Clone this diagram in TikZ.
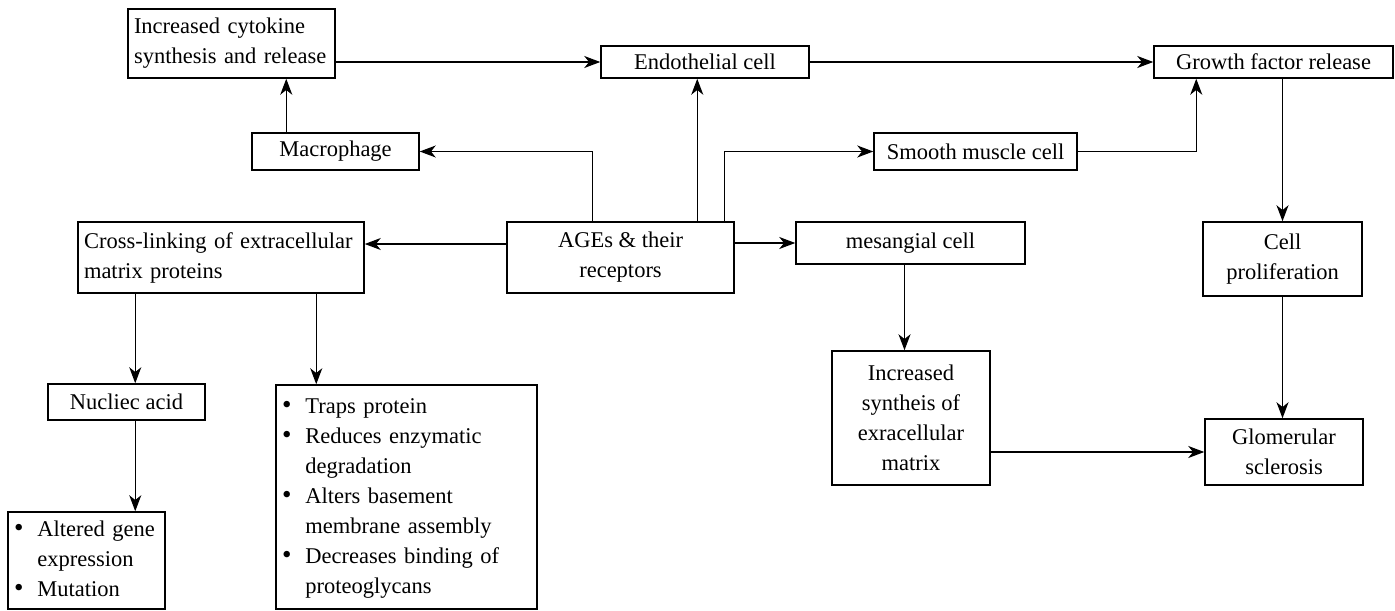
\documentclass[tikz,border=0pt]{standalone}
\usepackage{fontspec}
\setmainfont{Liberation Serif}
\usetikzlibrary{arrows.meta,calc}
\newcommand{\bul}{{\fontsize{13.5}{15}\selectfont\textbullet}}
\tikzset{
  box/.style={draw, line width=0.75pt, inner sep=0pt, font=\fontsize{11.25}{15}\selectfont, align=center},
  lbox/.style={box, align=left, inner xsep=3pt},
  arr/.style={line width=0.7pt, -{Stealth[length=8pt,width=6pt,inset=2.4pt]}},
}
\begin{document}
\begin{tikzpicture}[x=0.5pt,y=-0.5pt]
\useasboundingbox (0,0) rectangle (1395,610);

% nodes
\node[lbox, text width=97.5pt, minimum height=34.5pt] (cyto) at (231.5,43.5) {Increased cytokine\\synthesis and release};
\node[box, minimum width=104pt, minimum height=16pt] (endo) at (705,62) {Endothelial cell};
\node[box, minimum width=119.5pt, minimum height=16pt] (growth) at (1273.5,62) {Growth factor release};
\node[box, minimum width=83.5pt, minimum height=18.5pt] (macro) at (335.5,151.5) {Macrophage};
\node[box, minimum width=101.5pt, minimum height=18.5pt] (smooth) at (975.5,151.5) {Smooth muscle cell};
\node[lbox, text width=137pt, minimum height=35.5pt] (cross) at (221,257.5) {Cross-linking of extracellular\\matrix proteins};
\node[box, minimum width=113.5pt, minimum height=35.5pt] (ages) at (620.5,257.5) {AGEs \& their\\receptors};
\node[box, minimum width=114.5pt, minimum height=21pt] (mes) at (910.5,243) {mesangial cell};
\node[box, minimum width=79.5pt, minimum height=37pt] (prolif) at (1282.5,259) {Cell\\proliferation};
\node[box, minimum width=78.5pt, minimum height=18pt] (nuc) at (126.5,402) {Nucliec acid};
\node[lbox, text width=124.5pt, minimum height=112pt] (traps) at (406.5,497) {%
\begin{tabular}{@{}l@{\hspace{7pt}}l@{}}
\bul & Traps protein\\
\bul & Reduces enzymatic\\
 & degradation\\
\bul & Alters basement\\
 & membrane assembly\\
\bul & Decreases binding of\\
 & proteoglycans
\end{tabular}};
\node[lbox, text width=72.5pt, minimum height=48.5pt] (altered) at (86.5,560.5) {%
\begin{tabular}{@{}l@{\hspace{7pt}}l@{}}
\bul & Altered gene\\
 & expression\\
\bul & Mutation
\end{tabular}};
\node[box, minimum width=79pt, minimum height=67pt] (synth) at (911,418) {Increased\\syntheis of\\exracellular\\matrix};
\node[box, minimum width=79pt, minimum height=33pt] (glom) at (1284,452) {Glomerular\\sclerosis};

% helper coordinates
\coordinate (m1) at ([xshift=17.5pt]macro.north west);
\coordinate (a1) at ([xshift=43pt]ages.north west);
\coordinate (a2) at ([xshift=95.5pt]ages.north west);
\coordinate (a3) at ([xshift=109pt]ages.north west);
\coordinate (a4) at ([yshift=6.75pt]ages.west);
\coordinate (g1) at ([xshift=21.5pt]growth.south west);
\coordinate (c1) at ([xshift=29pt]cross.south west);
\coordinate (c2) at ([xshift=119.5pt]cross.south west);
\coordinate (ms) at ([xshift=-3pt]mes.south);

% connectors
\draw[arr] (cyto.east |- endo.west) -- (endo.west);
\draw[arr] (endo.east) -- (growth.west);
\draw[arr] (m1) -- (m1 |- cyto.south);
\draw[arr] (a1) |- (macro.east);
\draw[arr] (a2) -- (a2 |- endo.south);
\draw[arr] (a3) |- (smooth.west);
\draw[arr] (smooth.east) -| (g1);
\draw[arr] (growth.south -| prolif.north) -- (prolif.north);
\draw[arr] (prolif.south) -- (prolif.south |- glom.north);
\draw[arr] (a4) -- (a4 -| cross.east);
\draw[arr] (ages.east |- mes.west) -- (mes.west);
\draw[arr] (ms) -- (ms |- synth.north);
\draw[arr] (synth.east |- glom.west) -- (glom.west);
\draw[arr] (c1) -- (c1 |- nuc.north);
\draw[arr] (c2) -- (c2 |- traps.north);
\draw[arr] (c1 |- nuc.south) -- (c1 |- altered.north);
\end{tikzpicture}
\end{document}
